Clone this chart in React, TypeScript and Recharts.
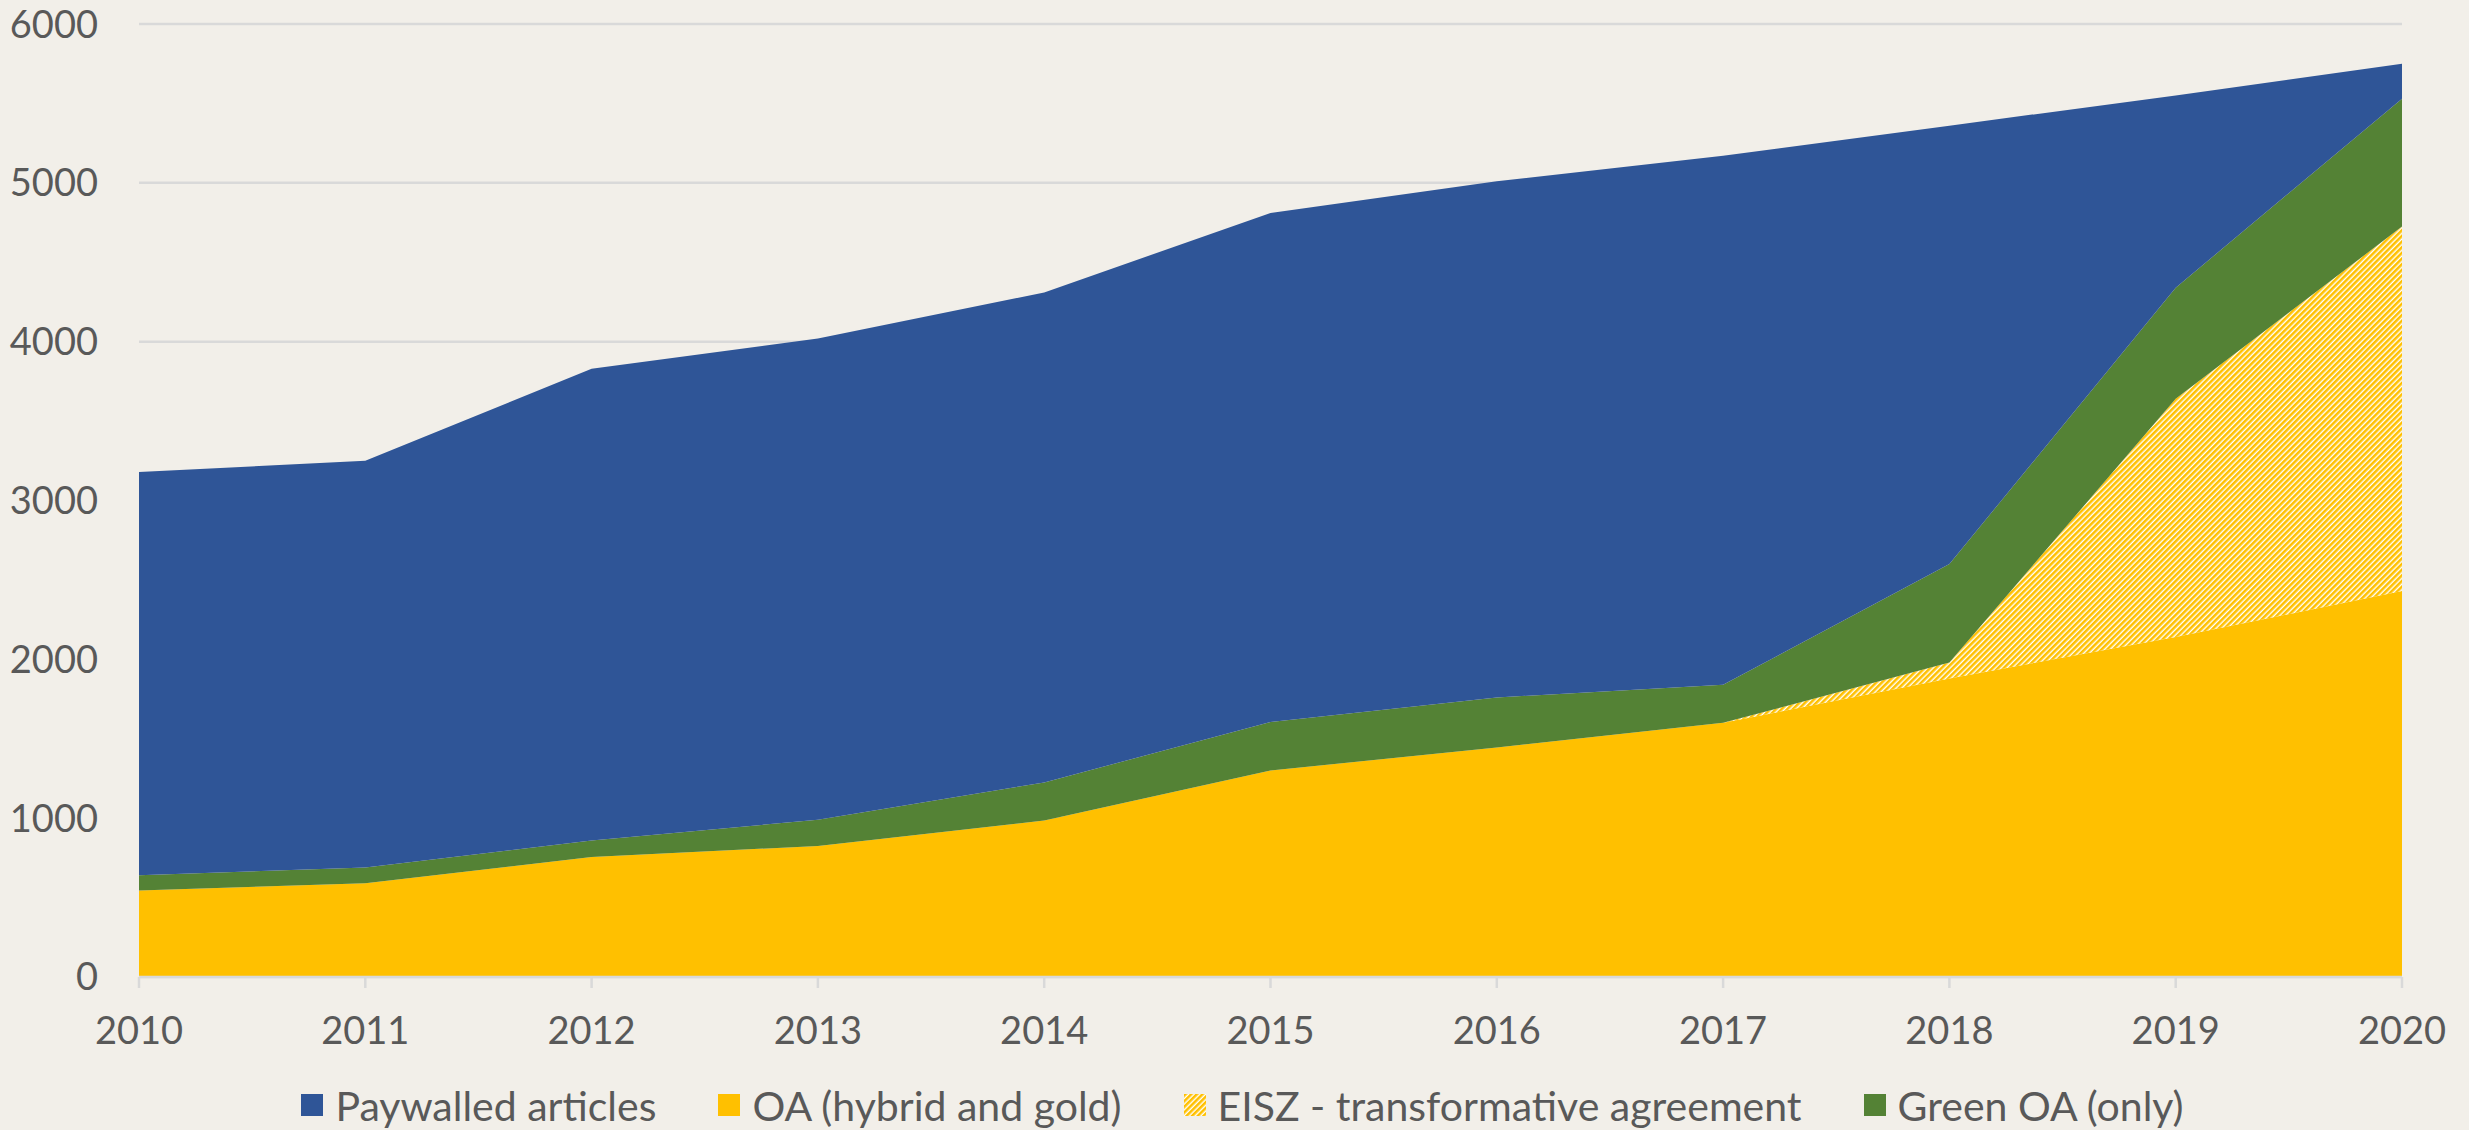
import React from "react";
import { AreaChart, Area, XAxis, YAxis, CartesianGrid, Legend } from "recharts";

const years = ["2010", "2011", "2012", "2013", "2014", "2015", "2016", "2017", "2018", "2019", "2020"];
const oaHybridGold = [545, 590, 755, 825, 985, 1300, 1445, 1600, 1880, 2140, 2430];
const eiszTransformative = [0, 0, 0, 0, 0, 0, 0, 0, 100, 1500, 2295];
const greenOnly = [95, 100, 105, 165, 240, 305, 315, 240, 620, 700, 805];
const paywalled = [2540, 2560, 2970, 3030, 3085, 3205, 3250, 3330, 2760, 1210, 220];
const yTicks = [0, 1000, 2000, 3000, 4000, 5000, 6000];

const data = years.map((y, i) => ({
  year: y,
  oa: oaHybridGold[i],
  eisz: eiszTransformative[i],
  green: greenOnly[i],
  paywalled: paywalled[i],
}));

const BLUE = "#2F5597";
const YELLOW = "#FFC000";
const GREEN = "#548235";
const TEXT = "#595959";
const GRID = "#D9D9D9";
const BG = "#F2EFE9";
const FONT = "Lato, 'Open Sans', sans-serif";

const legendItems = [
  { label: "Paywalled articles", kind: "solid", color: BLUE },
  { label: "OA (hybrid and gold)", kind: "solid", color: YELLOW },
  { label: "EISZ - transformative agreement", kind: "hatch", color: YELLOW },
  { label: "Green OA (only)", kind: "solid", color: GREEN },
];

const renderLegend = () => (
  <div
    style={{
      display: "flex",
      justifyContent: "center",
      alignItems: "center",
      fontFamily: FONT,
      fontSize: 41,
      color: TEXT,
      gap: 62,
      paddingLeft: 16,
      height: 50,
    }}
  >
    {legendItems.map((it) => (
      <div key={it.label} style={{ display: "flex", alignItems: "center" }}>
        <svg width={22} height={22} style={{ marginRight: 12 }}>
          <defs>
            <pattern id="hatchLeg" patternUnits="userSpaceOnUse" width="4" height="4" patternTransform="rotate(-45)">
              <rect x="0" y="0" width="4" height="4" fill="#ffffff" />
              <rect x="0" y="0" width="4" height="2.6" fill={YELLOW} />
            </pattern>
          </defs>
          <rect x={0} y={0} width={22} height={22} fill={it.kind === "hatch" ? "url(#hatchLeg)" : it.color} />
        </svg>
        <span>{it.label}</span>
      </div>
    ))}
  </div>
);

export default function App() {
  return (
    <div style={{ position: "absolute", left: 0, top: 0, width: 2469, height: 1130, background: BG }}>
      <AreaChart
        width={2469}
        height={1130}
        data={data}
        margin={{ top: 24, right: 67, bottom: 73, left: 0 }}
      >
        <defs>
          <pattern id="hatch" patternUnits="userSpaceOnUse" width="4" height="4" patternTransform="rotate(-45)">
            <rect x="0" y="0" width="4" height="4" fill="#ffffff" />
            <rect x="0" y="0" width="4" height="2.6" fill={YELLOW} />
          </pattern>
        </defs>
        <CartesianGrid vertical={false} stroke={GRID} strokeWidth={2.5} />
        <XAxis
          dataKey="year"
          stroke={GRID}
          strokeWidth={2.5}
          tickSize={11}
          tickMargin={29}
          tick={{ fill: TEXT, fontSize: 38, fontFamily: FONT }}
          interval={0}
        />
        <YAxis
          width={139}
          domain={[0, 6000]}
          ticks={yTicks}
          axisLine={false}
          tickLine={false}
          tickSize={0}
          tickMargin={41}
          tick={{ fill: TEXT, fontSize: 38, fontFamily: FONT }}
        />
        <Area type="linear" dataKey="oa" stackId="1" stroke="none" fill={YELLOW} fillOpacity={1} isAnimationActive={false} />
        <Area type="linear" dataKey="eisz" stackId="1" stroke="none" fill="url(#hatch)" fillOpacity={1} isAnimationActive={false} />
        <Area type="linear" dataKey="green" stackId="1" stroke="none" fill={GREEN} fillOpacity={1} isAnimationActive={false} />
        <Area type="linear" dataKey="paywalled" stackId="1" stroke="none" fill={BLUE} fillOpacity={1} isAnimationActive={false} />
        <Legend
          content={renderLegend}
          wrapperStyle={{ position: "absolute", left: 0, top: 1080, width: 2469 }}
        />
      </AreaChart>
    </div>
  );
}
